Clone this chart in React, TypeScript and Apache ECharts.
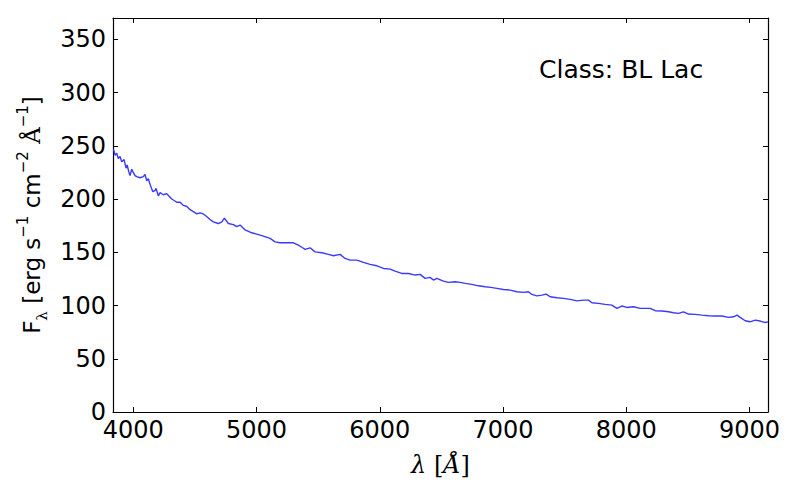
import React, { useEffect, useRef } from "react";
import * as echarts from "echarts";

// Wavelength (Å) and flux values
const wavelength = [
  3838, 3844, 3852, 3865, 3878, 3892, 3906, 3925, 3933, 3941, 3950, 3962, 3973, 3987, 3995,
  4014, 4027, 4054, 4081, 4095, 4109, 4122, 4135, 4157, 4176, 4184, 4203, 4217, 4244, 4271,
  4312, 4352, 4380, 4406, 4435, 4460, 4490, 4515, 4540, 4568, 4590, 4620, 4649, 4690, 4718,
  4739, 4771, 4812, 4839, 4866, 4907, 4961, 5002, 5055, 5110, 5150, 5191, 5245, 5299, 5339,
  5370, 5394, 5434, 5475, 5529, 5583, 5624, 5678, 5718, 5759, 5813, 5867, 5921, 5976, 6030,
  6084, 6124, 6178, 6232, 6287, 6327, 6368, 6408, 6435, 6463, 6516, 6557, 6611, 6652, 6692,
  6747, 6800, 6855, 6900, 6950, 7003, 7058, 7112, 7166, 7206, 7234, 7274, 7315, 7350, 7382,
  7437, 7490, 7545, 7599, 7653, 7693, 7721, 7774, 7829, 7883, 7924, 7964, 8005, 8058, 8113,
  8153, 8194, 8235, 8289, 8343, 8383, 8424, 8464, 8505, 8559, 8614, 8667, 8722, 8776, 8830,
  8870, 8898, 8924, 8965, 9005, 9046, 9087, 9127, 9150
];
const flux = [
  247, 245, 241, 243, 238, 240, 235, 237, 233, 229, 232, 226, 222, 228, 226,
  222, 221, 220, 221, 223, 217, 219, 214, 207, 208, 210, 203, 206, 204, 205,
  200, 197, 197, 194, 193, 190, 188, 186, 187, 186, 184, 181, 178.6, 177, 178.6,
  182, 177, 176, 174, 175.5, 171, 168.3, 167, 165.2, 163, 159.8, 158.9, 159, 158.9, 156.7,
  154.5, 152.7, 154.2, 150.4, 149.5, 148, 146.7, 148, 144.2, 142.6, 142.6, 140.5, 138.6, 137.3, 134.8,
  134.2, 132.3, 130.1, 130.1, 128.6, 129.2, 125.5, 126.4, 123.9, 125.5, 122.9, 121.7, 122.3, 121.7, 120.8,
  119.8, 118.5, 117.6, 117, 116.1, 115.1, 114.5, 112.9, 112.3, 112.9, 110.4, 109.1, 109.8, 110.7, 108.2,
  107.3, 106.7, 105.8, 104.4, 105.1, 105.1, 102.6, 102, 101.1, 100.4, 97.3, 99.5, 98.2, 98.8, 97.3,
  97.3, 97.3, 95.1, 94.8, 94.1, 93.2, 92.6, 94.1, 92, 91.7, 91, 90.4, 90.1, 90.1, 88.9,
  89.4, 91, 88.9, 85.7, 84.7, 86.3, 85.4, 84, 84.7
];
const xTicks = [4000, 5000, 6000, 7000, 8000, 9000];
const yTicks = [0, 50, 100, 150, 200, 250, 300, 350];
const xRange = [3835, 9150];
const yRange = [0, 370];
const classLabel = "Class: BL Lac";

const SANS = "DejaVu Sans";
const SERIF = "DejaVu Serif";

export default function App() {
  const ref = useRef<HTMLDivElement>(null);
  useEffect(() => {
    const chart = echarts.init(ref.current!, null, { renderer: "svg" });
    const tickCommon = {
      show: true,
      inside: true,
      length: 5,
      lineStyle: { color: "#000", width: 1 },
    };
    const lineCommon = { show: true, onZero: false, lineStyle: { color: "#000", width: 1.2 } };
    chart.setOption({
      animation: false,
      backgroundColor: "#fff",
      grid: { left: 113, right: 32, top: 18, bottom: 88, containLabel: false },
      xAxis: [
        {
          type: "value",
          min: xRange[0],
          max: xRange[1],
          position: "bottom",
          axisLine: lineCommon,
          axisTick: { ...tickCommon, customValues: xTicks },
          axisLabel: {
            customValues: xTicks,
            formatter: (v: number) => String(v),
            color: "#000",
            fontFamily: SANS,
            fontSize: 24,
            margin: 6,
          },
          splitLine: { show: false },
          name: "{l|λ}{t| [}{a|Å}{t|]}",
          nameLocation: "middle",
          nameGap: 41,
          nameTextStyle: {
            rich: {
              l: { fontFamily: SERIF, fontStyle: "italic", fontSize: 24, color: "#000" },
              t: { fontFamily: SERIF, fontSize: 24, color: "#000" },
              a: { fontFamily: SERIF, fontStyle: "italic", fontSize: 24, color: "#000" },
            },
          },
        },
        {
          type: "value",
          min: xRange[0],
          max: xRange[1],
          position: "top",
          axisLine: lineCommon,
          axisTick: { ...tickCommon, customValues: xTicks },
          axisLabel: { show: false },
          splitLine: { show: false },
        },
      ],
      yAxis: [
        {
          type: "value",
          min: yRange[0],
          max: yRange[1],
          position: "left",
          axisLine: lineCommon,
          axisTick: { ...tickCommon, customValues: yTicks },
          axisLabel: {
            customValues: yTicks,
            formatter: (v: number) => String(v),
            color: "#000",
            fontFamily: SANS,
            fontSize: 24,
            margin: 7,
          },
          splitLine: { show: false },
          name: "{t|F}{sub|λ}{t| [erg s}{sup|−1}{t| cm}{sup|−2}{t| }{a|Å}{sup|−1}{t|]}",
          nameLocation: "middle",
          nameRotate: 90,
          nameGap: 50,
          nameTextStyle: {
            rich: {
              t: { fontFamily: SANS, fontSize: 23, lineHeight: 34, color: "#000" },
              sub: { fontFamily: SERIF, fontSize: 15, lineHeight: 15, verticalAlign: "bottom", color: "#000" },
              sup: { fontFamily: SANS, fontSize: 15, lineHeight: 15, verticalAlign: "top", color: "#000" },
              a: { fontFamily: SERIF, fontSize: 23, lineHeight: 34, color: "#000" },
            },
          },
        },
        {
          type: "value",
          min: yRange[0],
          max: yRange[1],
          position: "right",
          axisLine: lineCommon,
          axisTick: { ...tickCommon, customValues: yTicks },
          axisLabel: { show: false },
          splitLine: { show: false },
        },
      ],
      graphic: [
        {
          type: "text",
          x: 539,
          y: 69,
          style: {
            text: classLabel,
            fontFamily: SANS,
            fontSize: 25,
            fill: "#000",
            verticalAlign: "middle",
            align: "left",
          },
        },
      ],
      series: [
        {
          type: "line",
          xAxisIndex: 0,
          yAxisIndex: 0,
          data: wavelength.map((w, i) => [w, flux[i]]),
          showSymbol: false,
          symbol: "none",
          clip: true,
          lineStyle: { color: "#3a3aff", width: 1.4 },
        },
      ],
    });
    return () => chart.dispose();
  }, []);
  return (
    <div
      ref={ref}
      style={{ position: "absolute", left: 0, top: 0, width: 800, height: 500 }}
    />
  );
}
